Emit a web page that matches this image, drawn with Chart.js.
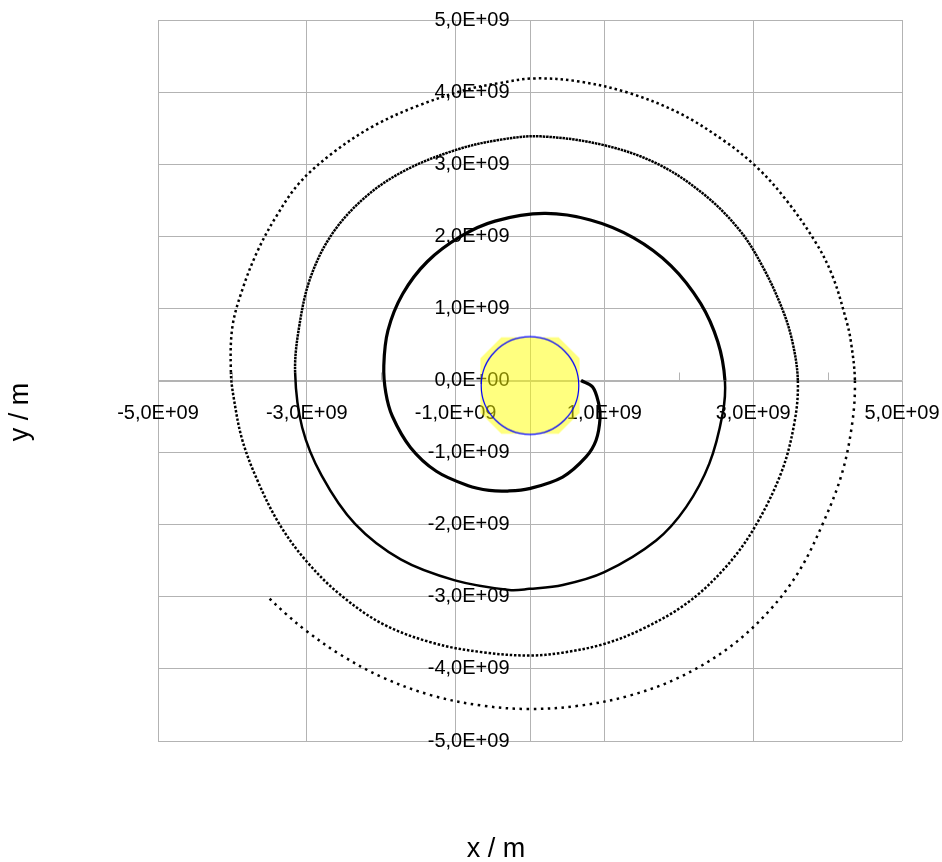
<!DOCTYPE html>
<html>
<head>
<meta charset="utf-8">
<title>Spiral trajectory</title>
<script src="https://cdn.jsdelivr.net/npm/chart.js@4"></script>
<style>
  html, body { margin: 0; padding: 0; background: #fff; }
  #wrap { width: 942px; height: 862px; }
</style>
</head>
<body>
<div id="wrap"><canvas id="orbit-chart" width="942" height="862"></canvas></div>
<script>
// all positions in units of 1E+09 m
const xTicks = [-5, -3, -1, 1, 3, 5];
const yTicks = [-5, -4, -3, -2, -1, 0, 1, 2, 3, 4, 5];
const xMinorTicks = [-4, -2, 2, 4];

const xTitle = 'x / m';
const yTitle = 'y / m';

const sunCenter = [[0, -0.07]];

// trajectory, split in half turns
const spiralTurn1 = [
  [0.686, 0.0], [0.842, -0.089], [0.923, -0.32], [0.942, -0.52], [0.888, -0.829],
  [0.753, -1.06], [0.438, -1.339], [-0.01, -1.50], [-0.30, -1.533], [-0.547, -1.524],
  [-0.84, -1.455], [-1.259, -1.259], [-1.607, -0.928], [-1.85, -0.496], [-1.938, -0.17],
  [-1.965, 0.207], [-1.909, 0.695], [-1.712, 1.199], [-1.382, 1.647], [-0.932, 1.998],
  [-0.47, 2.211], [0.19, 2.317], [0.811, 2.227], [1.388, 1.982], [1.896, 1.591],
  [2.293, 1.069], [2.524, 0.536], [2.62, 0.0]
];
const spiralTurn2a = [
  [2.62, 0.0], [2.59, -0.458], [2.41, -1.153], [2.098, -1.756], [1.695, -2.218],
  [0.999, -2.658], [0.44, -2.836], [-0.01, -2.89], [-0.28, -2.905], [-1.009, -2.772],
  [-1.738, -2.482], [-2.352, -1.99], [-2.80, -1.32], [-3.062, -0.651], [-3.157, 0.11]
];
const spiralTurn2b = [
  [-3.157, 0.11], [-3.103, 0.744], [-2.95, 1.43], [-2.655, 2.04],
  [-2.206, 2.55], [-1.668, 2.92], [-0.995, 3.198], [-0.413, 3.337], [0.14, 3.386],
  [0.977, 3.268], [1.695, 3.014], [2.32, 2.597], [2.815, 2.088],
  [3.128, 1.578], [3.397, 0.976], [3.532, 0.514], [3.60, 0.0]
];
const spiralTurn3a = [
  [3.60, 0.0], [3.56, -0.55], [3.38, -1.27], [2.994, -2.079], [2.59, -2.635],
  [2.098, -3.097], [1.515, -3.444], [0.999, -3.653], [0.438, -3.775], [-0.01, -3.815],
  [-0.638, -3.769], [-1.303, -3.64], [-1.983, -3.375], [-2.565, -2.958], [-3.013, -2.496],
  [-3.372, -1.986], [-3.664, -1.385], [-3.866, -0.829], [-3.977, -0.274], [-4.02, 0.11]
];
const spiralTurn3b = [
  [-4.02, 0.11], [-4.0, 0.744], [-3.86, 1.28], [-3.66, 1.80],
  [-3.42, 2.26], [-3.103, 2.736], [-2.655, 3.153], [-2.117, 3.522], [-1.533, 3.80],
  [-0.861, 4.032], [-0.413, 4.125], [0.06, 4.19], [0.663, 4.147], [1.336, 3.986],
  [2.008, 3.708], [2.59, 3.338], [3.04, 2.967], [3.443, 2.504], [3.847, 1.903],
  [4.07, 1.439], [4.25, 0.838], [4.31, 0.56], [4.367, 0.0]
];
const spiralTurn4 = [
  [4.367, 0.0], [4.33, -0.60], [4.19, -1.30], [3.935, -1.986], [3.622, -2.635],
  [3.219, -3.19], [2.681, -3.70], [2.008, -4.117], [1.336, -4.371], [0.663, -4.51],
  [-0.01, -4.556], [-0.638, -4.51], [-1.31, -4.371], [-1.983, -4.117], [-2.565, -3.792],
  [-3.013, -3.468], [-3.282, -3.236], [-3.537, -2.991]
];

const fontFamily = '"Liberation Sans", Arial, sans-serif';
const gridColor = '#b3b3b3';

// the trajectory gets sparser outwards: solid inside, dotted outside
const spiralParts = [
  { points: spiralTurn1, width: 3.2, dash: [] },
  { points: spiralTurn2a, width: 2.5, dash: [] },
  { points: spiralTurn2b, width: 2.5, dash: [2.5, 0.8] },
  { points: spiralTurn3a, width: 2.5, dash: [2.5, 1.8] },
  { points: spiralTurn3b, width: 2.5, dash: [2.5, 3.0] },
  { points: spiralTurn4, width: 2.5, dash: [2.5, 4.5] },
];

const spiralData = [];
const partOfPoint = [];
spiralParts.forEach((part, k) => {
  part.points.forEach(([x, y], i) => {
    if (k > 0 && i === 0) return; // same as the last point of the part before
    spiralData.push({ x, y });
    partOfPoint.push(k);
  });
});

function partStyle(ctx) {
  return spiralParts[partOfPoint[ctx.p1DataIndex]];
}

function formatTick(value) {
  if (value === 0) return '0,0E+00';
  return value.toFixed(1).replace('.', ',') + 'E+09';
}

// yellow octagon with the blue outline of the sun
function makeSunMarker() {
  const c = document.createElement('canvas');
  c.width = 104;
  c.height = 104;
  const g = c.getContext('2d');
  const cx = 52, cy = 52, hw = 49.6, hh = 48.3, cut = 21;
  g.fillStyle = 'rgba(255, 255, 0, 0.5)';
  g.beginPath();
  g.moveTo(cx - hw + cut, cy - hh);
  g.lineTo(cx + hw - cut, cy - hh);
  g.lineTo(cx + hw, cy - hh + cut);
  g.lineTo(cx + hw, cy + hh - cut);
  g.lineTo(cx + hw - cut, cy + hh);
  g.lineTo(cx - hw + cut, cy + hh);
  g.lineTo(cx - hw, cy + hh - cut);
  g.lineTo(cx - hw, cy - hh + cut);
  g.closePath();
  g.fill();
  g.strokeStyle = '#0000ff';
  g.lineWidth = 1.2;
  g.beginPath();
  g.arc(cx, cy, 48.8, 0, Math.PI * 2);
  g.stroke();
  return c;
}

const datasets = [
  {
    data: sunCenter.map(([x, y]) => ({ x, y })),
    pointStyle: makeSunMarker(),
    pointRadius: 5,
    showLine: false,
    order: 1,
  },
  {
    data: spiralData,
    showLine: true,
    borderColor: '#000',
    borderWidth: 3.2,
    borderCapStyle: 'butt',
    borderJoinStyle: 'round',
    tension: 0.35,
    pointRadius: 0,
    order: 2,
    segment: {
      borderWidth: (ctx) => partStyle(ctx).width,
      borderDash: (ctx) => partStyle(ctx).dash,
    },
  },
];

const axisExtras = {
  id: 'axisExtras',
  beforeDatasetsDraw(chart) {
    const { ctx, scales: { x, y } } = chart;
    const y0 = y.getPixelForValue(0);
    ctx.save();
    ctx.strokeStyle = gridColor;
    ctx.lineWidth = 1;
    xMinorTicks.forEach((v) => {
      const px = Math.round(x.getPixelForValue(v)) + 0.5;
      ctx.beginPath();
      ctx.moveTo(px, y0);
      ctx.lineTo(px, y0 - 8);
      ctx.stroke();
    });
    ctx.restore();
  },
  afterDraw(chart) {
    const { ctx } = chart;
    ctx.save();
    ctx.fillStyle = '#000';
    ctx.font = '27px ' + fontFamily;
    ctx.textAlign = 'center';
    ctx.textBaseline = 'alphabetic';
    ctx.fillText(xTitle, 496, 857);
    ctx.translate(28, 412);
    ctx.rotate(-Math.PI / 2);
    ctx.fillText(yTitle, 0, 0);
    ctx.restore();
  },
};

function axisOptions(ticks, padding, isX) {
  return {
    type: 'linear',
    position: 'center',
    min: -5,
    max: 5,
    afterBuildTicks: (scale) => {
      scale.ticks = ticks.map((value) => ({ value }));
    },
    // axes sit in the middle of the plot: keep them from taking layout space
    afterFit: (scale) => {
      if (isX) scale.height = 0;
      else scale.width = 0;
      scale.paddingLeft = 0;
      scale.paddingRight = 0;
      scale.paddingTop = 0;
      scale.paddingBottom = 0;
    },
    grid: { color: gridColor, lineWidth: 1, drawTicks: false },
    border: { color: gridColor, width: 1 },
    ticks: {
      padding,
      color: '#000',
      font: { family: fontFamily, size: 20 },
      maxRotation: 0,
      minRotation: 0,
      autoSkip: false,
      callback: formatTick,
    },
  };
}

new Chart(document.getElementById('orbit-chart'), {
  type: 'scatter',
  data: { datasets },
  options: {
    responsive: false,
    animation: false,
    events: [],
    layout: { padding: { left: 158, top: 20, right: 40, bottom: 121 } },
    plugins: {
      legend: { display: false },
      tooltip: { enabled: false },
    },
    scales: {
      x: axisOptions(xTicks, 21, true),
      y: axisOptions(yTicks, 20.5, false),
    },
  },
  plugins: [axisExtras],
});
</script>
</body>
</html>
